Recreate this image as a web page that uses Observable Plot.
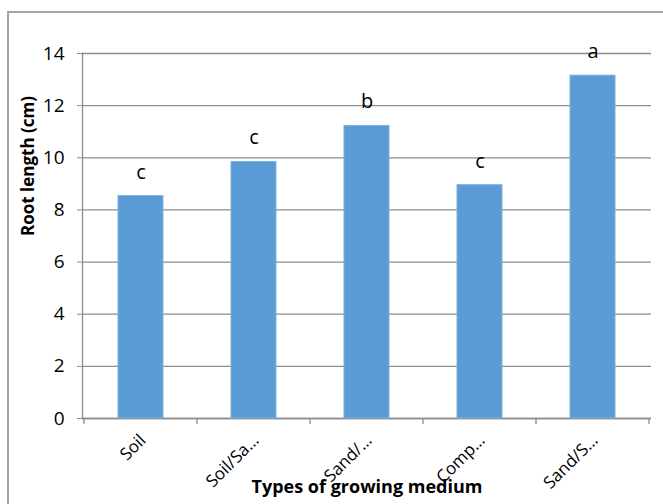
<!DOCTYPE html>
<html>
<head>
<meta charset="utf-8">
<script src="https://cdn.jsdelivr.net/npm/d3@7"></script>
<script src="https://cdn.jsdelivr.net/npm/@observablehq/plot@0.6"></script>
<style>
  html, body { margin: 0; padding: 0; background: #fff; overflow: hidden; }
  #wrap { position: relative; width: 663px; height: 504px; overflow: hidden; }
  #frame { position: absolute; left: 7px; top: 11px; width: 700px; height: 600px; border: 2px solid #a6a6a6; box-sizing: border-box; pointer-events: none; }
  #chart { position: absolute; left: 0; top: 0; }
</style>
</head>
<body>
<div id="wrap"><div id="chart"></div><div id="frame"></div></div>
<script>
const categories = ["Soil", "Soil/Sa…", "Sand/…", "Comp…", "Sand/S…"];
const rootLength = [8.53, 9.84, 11.22, 8.95, 13.15];
const letters = ["c", "c", "b", "c", "a"];
const yTicks = [0, 2, 4, 6, 8, 10, 12, 14];
const xTitle = "Types of growing medium";
const yTitle = "Root length (cm)";

const data = categories.map((c, i) => ({medium: c, value: rootLength[i], letter: letters[i]}));

const gridColor = "#8c8c8c";
const font = "Open Sans";

const chart = Plot.plot({
  width: 663,
  height: 504,
  marginLeft: 82,
  marginRight: 12,
  marginTop: 53,
  marginBottom: 86,
  style: {fontFamily: font, fontSize: "18px", color: "#000", background: "transparent"},
  x: {domain: categories, paddingInner: 0.6, paddingOuter: 0.3},
  y: {domain: [0, 14]},
  marks: [
    Plot.gridY(yTicks, {stroke: gridColor, strokeOpacity: 1, strokeWidth: 1.3}),
    Plot.frame({anchor: "left", stroke: gridColor, strokeWidth: 1.3}),
    Plot.ruleY([0], {stroke: gridColor, strokeWidth: 1.3}),
    Plot.axisY(yTicks, {tickSize: 5, tickPadding: 13, stroke: gridColor, label: null, fontSize: 19}),
    Plot.axisX({tickRotate: -45, tickSize: 0, tickPadding: 19, dx: 2, label: null, fontSize: 17}),
    Plot.barY(data, {x: "medium", y: "value", fill: "#5b9bd5", stroke: "#7fb0de", strokeWidth: 1}),
    Plot.text(data, {x: "medium", y: "value", text: "letter", dy: -24, fontSize: 20}),
    Plot.text([xTitle], {frameAnchor: "bottom", dy: 74, text: d => d, fontWeight: "bold", fontSize: 18}),
    Plot.text([yTitle], {frameAnchor: "left", dx: -54, rotate: -90, text: d => d, fontWeight: "bold", fontSize: 17})
  ]
});

// tick marks at category boundaries, placed via the chart's own x and y scales
const sx = chart.scale("x");
const sy = chart.scale("y");
const gap = (sx.step - sx.bandwidth) / 2;
const bounds = categories.map(c => sx.apply(c) - gap);
bounds.push(sx.apply(categories[categories.length - 1]) - gap + sx.step);
const y0 = sy.apply(0);
d3.select(chart).append("g")
  .selectAll("line").data(bounds).join("line")
  .attr("x1", d => d).attr("x2", d => d)
  .attr("y1", y0).attr("y2", y0 + 6)
  .attr("stroke", gridColor).attr("stroke-width", 1.3);

document.getElementById("chart").appendChild(chart);
</script>
</body>
</html>
